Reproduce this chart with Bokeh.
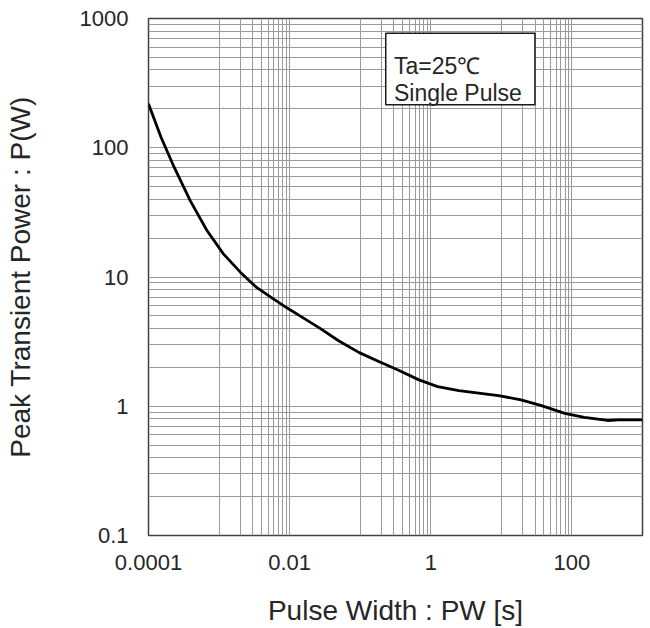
from bokeh.plotting import figure
from bokeh.models import Range1d, FixedTicker, BoxAnnotation, Label, CustomJSTickFormatter
from bokeh.embed import file_html
from bokeh.resources import INLINE

# ---- data ----
pulse_width = [1e-4, 1.5e-4, 2.3e-4, 3.9e-4, 6.7e-4, 1.15e-3, 2.0e-3, 3.4e-3, 5.8e-3,
               9.5e-3, 0.014, 0.027, 0.05, 0.097, 0.19, 0.35, 0.68, 1.25, 2.5, 9.1,
               19, 37, 79, 150, 320, 450, 1000]
peak_power = [219, 121, 71, 39, 23, 15.1, 10.9, 8.3, 6.8,
              5.7, 5.0, 4.0, 3.2, 2.6, 2.2, 1.9, 1.6, 1.42, 1.32, 1.21,
              1.12, 1.01, 0.88, 0.82, 0.776, 0.785, 0.785]

x_major_ticks = [1e-4, 1e-2, 1, 100]
x_tick_labels = ["0.0001", "0.01", "1", "100"]
y_major_ticks = [0.1, 1, 10, 100, 1000]
y_tick_labels = ["0.1", "1", "10", "100", "1000"]

# vertical gridlines (reference shows minors only in every other decade)
x_grid_lines = ([k * 1e-3 for k in range(1, 10)] + [1e-2] +
                [k * 1e-1 for k in range(1, 10)] + [1] +
                [k * 10 for k in range(1, 10)] + [100])
# horizontal gridlines: full minor set in each decade
y_grid_lines = [k * 10.0 ** e for e in range(-1, 3) for k in range(1, 10)] + [1000]

note_lines = ["Ta=25\u2103", "Single Pulse"]

FONT = "Liberation Sans"
TXT = "#262626"

p = figure(width=650, height=628, x_axis_type="log", y_axis_type="log",
           x_range=Range1d(1e-4, 1000), y_range=Range1d(0.1, 1000),
           output_backend="svg", toolbar_location=None,
           min_border_left=148, min_border_right=8, min_border_top=18,
           min_border_bottom=85)

p.outline_line_color = "#404040"
p.outline_line_width = 1.5

p.xgrid.ticker = FixedTicker(ticks=x_grid_lines)
p.ygrid.ticker = FixedTicker(ticks=y_grid_lines)
for g in (p.xgrid, p.ygrid):
    g.grid_line_color = "#9a9a9a"
    g.grid_line_width = 1
    g.grid_line_alpha = 1.0

fmt_x = CustomJSTickFormatter(args=dict(t=x_major_ticks, l=x_tick_labels), code="""
  for (let i = 0; i < t.length; i++) { if (Math.abs(Math.log10(tick) - Math.log10(t[i])) < 1e-6) return l[i]; }
  return "";
""")
fmt_y = CustomJSTickFormatter(args=dict(t=y_major_ticks, l=y_tick_labels), code="""
  for (let i = 0; i < t.length; i++) { if (Math.abs(Math.log10(tick) - Math.log10(t[i])) < 1e-6) return l[i]; }
  return "";
""")

p.xaxis.ticker = FixedTicker(ticks=x_major_ticks)
p.yaxis.ticker = FixedTicker(ticks=y_major_ticks)
p.xaxis.formatter = fmt_x
p.yaxis.formatter = fmt_y

for ax in (p.xaxis, p.yaxis):
    ax.axis_line_color = None
    ax.major_tick_line_color = None
    ax.minor_tick_line_color = None
    ax.major_tick_in = 0
    ax.major_tick_out = 0
    ax.major_label_text_font = FONT
    ax.major_label_text_font_size = "22px"
    ax.major_label_text_color = TXT
    ax.axis_label_text_font = FONT
    ax.axis_label_text_font_size = "28px"
    ax.axis_label_text_font_style = "normal"
    ax.axis_label_text_color = TXT

p.xaxis.axis_label = "Pulse Width : PW [s]"
p.yaxis.axis_label = "Peak Transient Power : P(W)"
p.xaxis.major_label_standoff = 19
p.yaxis.major_label_standoff = 20
p.xaxis.axis_label_standoff = 22
p.yaxis.axis_label_standoff = 41

p.line(pulse_width, peak_power, line_color="black", line_width=2.8)

# annotation box
box = BoxAnnotation(left=0.23, right=29.9, bottom=215, top=769,
                    fill_color="white", fill_alpha=1.0,
                    line_color="#1a1a1a", line_width=1.5, line_alpha=1.0)
p.add_layout(box)
p.add_layout(Label(x=0.301, y=432, text=note_lines[0], text_font=FONT,
                   text_font_size="23px", text_color=TXT, text_baseline="alphabetic"))
p.add_layout(Label(x=0.301, y=264, text=note_lines[1], text_font=FONT,
                   text_font_size="23px", text_color=TXT, text_baseline="alphabetic"))

open("out.html", "w").write(file_html(p, INLINE))
